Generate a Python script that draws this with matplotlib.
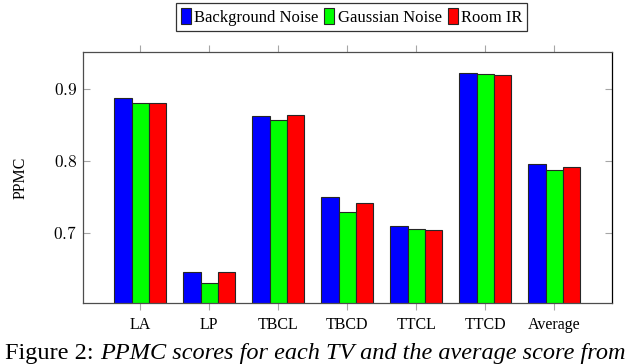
import matplotlib
matplotlib.use("Agg")
import matplotlib.pyplot as plt
import numpy as np
from matplotlib.ticker import FuncFormatter

# values
categories = ["LA", "LP", "TBCL", "TBCD", "TTCL", "TTCD", "Average"]
background_noise = [0.888, 0.645, 0.862, 0.750, 0.709, 0.922, 0.796]
gaussian_noise = [0.881, 0.631, 0.857, 0.729, 0.705, 0.921, 0.787]
room_ir = [0.881, 0.646, 0.864, 0.741, 0.704, 0.920, 0.792]
series_names = ["Background Noise", "Gaussian Noise", "Room IR"]
series_colors = ["#0000ff", "#00ff00", "#ff0000"]

plt.rcParams["font.family"] = ["Liberation Serif", "DejaVu Serif"]
plt.rcParams["mathtext.fontset"] = "cm"

fig = plt.figure(figsize=(6.3, 3.64), dpi=100)
ax = fig.add_axes([0.1313, 0.1684, 0.8406, 0.6879])

x = np.arange(len(categories))
w = 0.25
for i, (vals, name, col) in enumerate(zip([background_noise, gaussian_noise, room_ir],
                                          series_names, series_colors)):
	ax.bar(x + (i - 1) * w, vals, width=w, color=col, edgecolor="0.15",
	       linewidth=0.8, label=name)

ax.set_xlim(-0.835, 6.84)
ax.set_ylim(0.603, 0.951)
ax.set_yticks([0.7, 0.8, 0.9])
ax.yaxis.set_major_formatter(FuncFormatter(lambda v, p: "$%.1f$" % v))
ax.set_xticks(x)
ax.set_xticklabels(categories)

ax.tick_params(axis="x", direction="out", length=5, width=0.8, color="0.65",
               top=True, labelsize=11.5, pad=5)
ax.tick_params(axis="y", direction="in", length=5, width=0.8, color="0.65",
               right=True, labelsize=12.5, pad=4)
for s in ["left", "bottom", "top"]:
	ax.spines[s].set_color("0.3")
	ax.spines[s].set_linewidth(0.9)
ax.spines["right"].set_color("black")
ax.spines["right"].set_linewidth(0.9)

ax.set_ylabel("PPMC", fontsize=11.5, labelpad=18)

leg = fig.legend(loc="center", bbox_to_anchor=(351.5 / 630, 1 - 17 / 364), ncol=3,
                 fontsize=12, frameon=True, fancybox=False, edgecolor="black",
                 handlelength=0.6, handleheight=1.1, handletextpad=0.2,
                 columnspacing=0.35, borderpad=0.3, borderaxespad=0)
leg.get_frame().set_linewidth(0.9)

# caption, roman part then italic part
fig.canvas.draw()
r = fig.canvas.get_renderer()
t1 = fig.text(5 / 630, 5 / 364, "Figure 2: ", fontsize=17.5, va="baseline", ha="left")
ext = t1.get_window_extent(renderer=r)
fig.text(ext.x1 / fig.bbox.width, 5 / 364, "PPMC scores for each TV and the average score from",
         fontsize=17.5, style="italic", va="baseline", ha="left")

fig.savefig("out.png", dpi=100)
